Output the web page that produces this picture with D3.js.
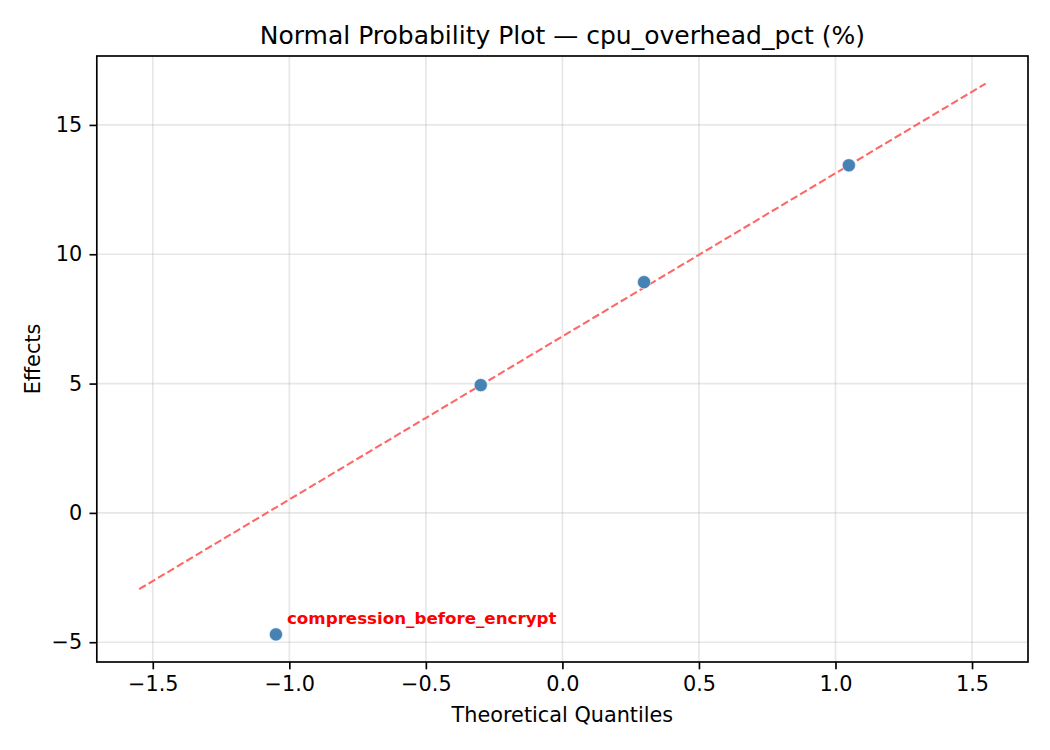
<!DOCTYPE html>
<html>
<head>
<meta charset="utf-8">
<script src="https://cdn.jsdelivr.net/npm/d3@7"></script>
<style>
  html, body { margin: 0; padding: 0; background: #fff; }
  svg { display: block; font-family: "DejaVu Sans", sans-serif; }
</style>
</head>
<body>
<svg id="chart" width="1050" height="750"></svg>
<script>
// ---- data ----
const factorNames = ["compression_before_encrypt", "f2", "f3", "f4"];
const quantiles = [-1.049, -0.299, 0.299, 1.049];
const effects = [-4.70, 4.94, 8.92, 13.44];
const refLineX = [-1.55, 1.55];
const refLineY = [-2.95, 16.60];
const labelled = ["compression_before_encrypt"];
const xTicks = [-1.5, -1.0, -0.5, 0.0, 0.5, 1.0, 1.5];
const yTicks = [-5, 0, 5, 10, 15];
const titleText = "Normal Probability Plot \u2014 cpu_overhead_pct (%)";
const xLabelText = "Theoretical Quantiles";
const yLabelText = "Effects";

// ---- layout ----
const W = 1050, H = 750;
const m = { left: 96.8, right: 1028, top: 56, bottom: 662 };

const svg = d3.select("#chart");

const xAll = quantiles.concat(refLineX);
const yAll = effects.concat(refLineY);
const xExt = d3.extent(xAll), yExt = d3.extent(yAll);
const xPad = (xExt[1] - xExt[0]) * 0.05, yPad = (yExt[1] - yExt[0]) * 0.05;

const x = d3.scaleLinear().domain([xExt[0] - xPad, xExt[1] + xPad]).range([m.left, m.right]);
const y = d3.scaleLinear().domain([yExt[0] - yPad, yExt[1] + yPad]).range([m.bottom, m.top]);

const fmt1 = d => (d < 0 ? "\u2212" : "") + Math.abs(d).toFixed(1);
const fmt0 = d => (d < 0 ? "\u2212" : "") + Math.abs(d).toFixed(0);

// grid
const grid = svg.append("g");
grid.selectAll("line.gx").data(xTicks).join("line")
  .attr("x1", d => x(d)).attr("x2", d => x(d))
  .attr("y1", m.top).attr("y2", m.bottom)
  .attr("stroke", "#b0b0b0").attr("stroke-opacity", 0.3).attr("stroke-width", 1.67);
grid.selectAll("line.gy").data(yTicks).join("line")
  .attr("y1", d => y(d)).attr("y2", d => y(d))
  .attr("x1", m.left).attr("x2", m.right)
  .attr("stroke", "#b0b0b0").attr("stroke-opacity", 0.3).attr("stroke-width", 1.67);

// reference line
const line = d3.line().x(d => x(d[0])).y(d => y(d[1]));
svg.append("path")
  .datum(refLineX.map((v, i) => [v, refLineY[i]]))
  .attr("d", line)
  .attr("fill", "none")
  .attr("stroke", "rgb(255,102,102)")
  .attr("stroke-width", 2.08)
  .attr("stroke-dasharray", "7.7,3.3");

// points
svg.append("g").selectAll("circle").data(quantiles.map((q, i) => ({ q, e: effects[i], n: factorNames[i] })))
  .join("circle")
  .attr("cx", d => x(d.q)).attr("cy", d => y(d.e))
  .attr("r", 6.6)
  .attr("fill", "#4682b4")
  .attr("stroke", "#ffffff").attr("stroke-width", 0.6);

// annotations
svg.append("g").selectAll("text").data(quantiles.map((q, i) => ({ q, e: effects[i], n: factorNames[i] })).filter(d => labelled.includes(d.n)))
  .join("text")
  .attr("x", d => x(d.q) + 11)
  .attr("y", d => y(d.e) - 10.6)
  .attr("fill", "red")
  .attr("font-weight", "bold")
  .attr("font-size", 16.7)
  .text(d => d.n);

// axes frame
svg.append("rect")
  .attr("x", m.left).attr("y", m.top)
  .attr("width", m.right - m.left).attr("height", m.bottom - m.top)
  .attr("fill", "none").attr("stroke", "#000").attr("stroke-width", 1.67);

// x axis
const xAxis = d3.axisBottom(x).tickValues(xTicks).tickFormat(fmt1).tickSizeInner(7.3).tickSizeOuter(0).tickPadding(7.3);
const gx = svg.append("g").attr("transform", `translate(0,${m.bottom})`).call(xAxis);
gx.select(".domain").remove();
gx.selectAll(".tick line").attr("stroke", "#000").attr("stroke-width", 1.67);
gx.selectAll(".tick text").attr("font-size", 20.8).attr("fill", "#000").attr("font-family", "DejaVu Sans");

// y axis
const yAxis = d3.axisLeft(y).tickValues(yTicks).tickFormat(fmt0).tickSizeInner(7.3).tickSizeOuter(0).tickPadding(7.3);
const gy = svg.append("g").attr("transform", `translate(${m.left},0)`).call(yAxis);
gy.select(".domain").remove();
gy.selectAll(".tick line").attr("stroke", "#000").attr("stroke-width", 1.67);
gy.selectAll(".tick text").attr("font-size", 20.8).attr("fill", "#000").attr("font-family", "DejaVu Sans");

// title
svg.append("text")
  .attr("x", (m.left + m.right) / 2).attr("y", 44)
  .attr("text-anchor", "middle").attr("font-size", 25).attr("fill", "#000")
  .text(titleText);

// x label
svg.append("text")
  .attr("x", (m.left + m.right) / 2).attr("y", 722)
  .attr("text-anchor", "middle").attr("font-size", 20.8).attr("fill", "#000")
  .text(xLabelText);

// y label
svg.append("text")
  .attr("transform", `translate(40,${(m.top + m.bottom) / 2}) rotate(-90)`)
  .attr("text-anchor", "middle").attr("font-size", 20.8).attr("fill", "#000")
  .text(yLabelText);
</script>
</body>
</html>
